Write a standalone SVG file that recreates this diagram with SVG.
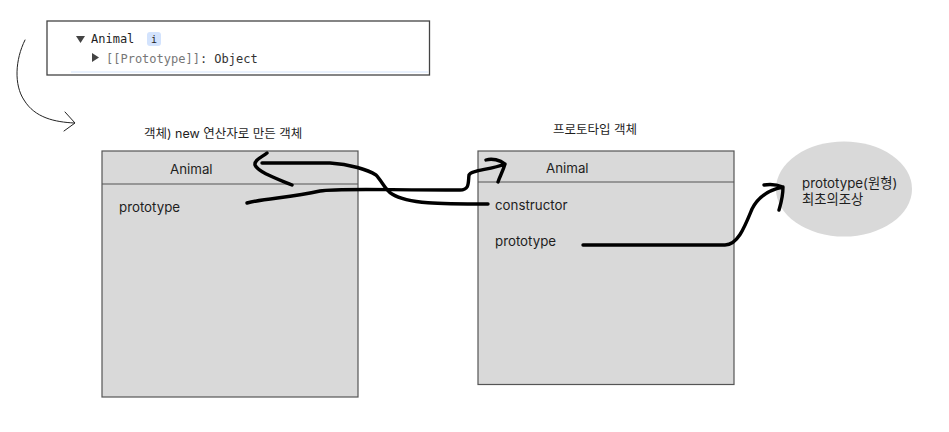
<svg xmlns="http://www.w3.org/2000/svg" width="949" height="432" viewBox="0 0 949 432">
<style>
text{font-family:Inter,"Noto Sans CJK KR",sans-serif;font-size:13.3px;fill:#1e1e1e}
.box{fill:#d9d9d9;stroke:#555;stroke-width:1.2}
.div{stroke:#555;stroke-width:1.2;fill:none}
.ink{fill:none;stroke:#000;stroke-width:3.4;stroke-linecap:round;stroke-linejoin:round}
.thin{fill:none;stroke:#222;stroke-width:1;stroke-linecap:round;stroke-linejoin:round}
.mono{font-family:"DejaVu Sans Mono",monospace;font-size:12px}
</style>
<g id="console">
<rect x="47" y="21" width="382.500" height="54" fill="#fff" stroke="#444" stroke-width="1.3"/>
<path d="M71 72H428" stroke="#d3e3fb" stroke-width="1" fill="none"/>
<path d="M76 36h9l-4.500 7z" fill="#444"/>
<text class="mono" x="91" y="43" fill="#333">Animal</text>
<rect x="147" y="32" width="14" height="14" rx="3" fill="#d3e3fd"/>
<text class="mono" x="154" y="43" text-anchor="middle" style="font-size:10px" fill="#333">i</text>
<path d="M92 53v9l7-4.500z" fill="#444"/>
<text class="mono" x="106" y="62.500"><tspan fill="#777">[[Prototype]]</tspan><tspan fill="#333">: Object</tspan></text>
</g>
<g id="object-label"><text x="144" y="138" style="font-size:12.500px">객체) new 연산자로 만든 객체</text></g>
<g id="proto-label"><text x="553" y="134" style="font-size:12.500px">프로토타입 객체</text></g>
<g id="object-node">
<rect class="box" x="102" y="151" width="256" height="246"/>
<path class="div" d="M102 184H358"/>
<text x="170" y="174">Animal</text>
<text x="119" y="212">prototype</text>
</g>
<g id="proto-node">
<rect class="box" x="478" y="151" width="256" height="233.500"/>
<path class="div" d="M478 182H734"/>
<text x="546" y="173">Animal</text>
<text x="495" y="210">constructor</text>
<text x="495" y="246">prototype</text>
</g>
<g id="ellipse-node">
<ellipse cx="844" cy="189" rx="68" ry="47.500" fill="#d9d9d9"/>
<text x="802" y="188">prototype(원형)</text>
<text x="802" y="204">최초의조상</text>
</g>
<g id="connectors">
<path class="thin" d="M25 40C15 60 14 85 24 100C35 118 55 122 74 123M65 112L75 123L64 131"/>
<path class="ink" d="M292 185C275 178 258 172 255 165C254 160 262 157 267 153M262 163H330C350 164 368 170 376 175C382 181 385 190 392 194C408 204 440 204 488 204"/>
<path class="ink" d="M247 203C265 198 290 198 320 191C335 188 380 190 460 190C470 190 468 182 469 175C471 170 490 170 505 164M486 160C492 158 500 160 505 164C503 171 500 176 498 182"/>
<path class="ink" d="M583 245H725C738 245 745 226 752 209C758 197 768 190 783 187M764 185C770 184 778 185 783 187C783 197 781 203 779 210"/>
</g>
</svg>
